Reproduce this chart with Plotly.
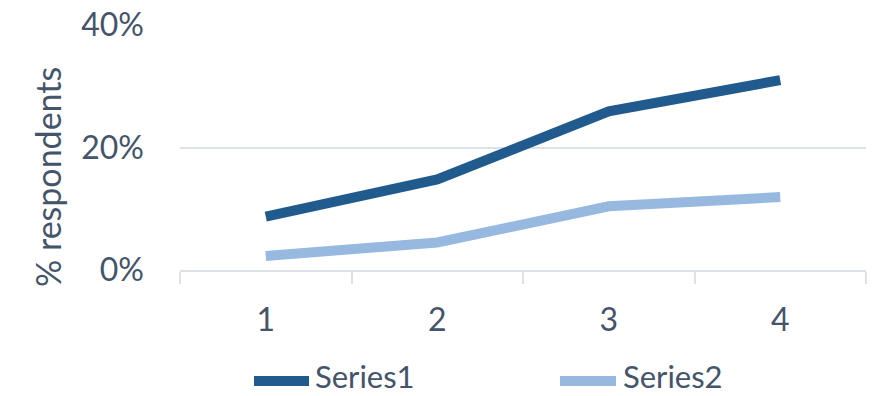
import plotly.graph_objects as go

categories = ["1", "2", "3", "4"]
series_names = ["Series1", "Series2"]
series1 = [8.7, 14.8, 25.9, 31.0]
series2 = [2.3, 4.5, 10.4, 11.9]
colors = ["#215A8C", "#97B9E0"]
y_ticks = [0, 20, 40]
y_tick_labels = ["0%", "20%", "40%"]

TEXT = "#44546A"
GRID = "#DDE2E8"
FONT = "Lato"

W, H = 874, 396
L, R, T, B = 180, 8, 25, 126
PW, PH = W - L - R, H - T - B


def px_x(px):
    return (px - L) / PW


def px_y(py):
    return (H - B - py) / PH


fig = go.Figure()
for name, vals, col in zip(series_names, [series1, series2], colors):
    fig.add_trace(go.Scatter(x=categories, y=vals, name=name, mode="lines",
                             line=dict(color=col, width=10)))

# legend drawn below the plot: swatch line + label
legend_swatch = [(254, 309), (560, 616)]
legend_text_x = [314, 622]
legend_y = 381
for name, col, (sx0, sx1), tx in zip(series_names, colors, legend_swatch, legend_text_x):
    fig.add_shape(type="line", xref="paper", yref="paper",
                  x0=px_x(sx0), x1=px_x(sx1), y0=px_y(legend_y), y1=px_y(legend_y),
                  line=dict(color=col, width=10))
    fig.add_annotation(xref="paper", yref="paper", x=px_x(tx), y=px_y(376),
                       xanchor="left", yanchor="middle", showarrow=False, borderpad=0,
                       text=name, font=dict(size=31, color=TEXT, family=FONT))

# y-axis title
fig.add_annotation(xref="paper", yref="paper", x=px_x(47), y=px_y(177),
                   xanchor="center", yanchor="middle", showarrow=False,
                   textangle=-90, text="% respondents",
                   font=dict(size=34, color=TEXT, family=FONT))

fig.update_layout(
    width=W, height=H,
    margin=dict(l=L, r=R, t=T, b=B, autoexpand=False),
    paper_bgcolor="white", plot_bgcolor="white",
    font=dict(family=FONT, color=TEXT, size=32),
    showlegend=False,
)
fig.update_xaxes(
    type="category", range=[-0.5, 3.5], showgrid=False,
    showline=True, linecolor=GRID, linewidth=2,
    ticks="outside", tickson="boundaries", ticklen=12, tickcolor=GRID, tickwidth=2,
    tickfont=dict(size=32, color=TEXT), ticklabelstandoff=21,
)
fig.update_yaxes(
    range=[0, 40], tickvals=y_ticks, ticktext=y_tick_labels,
    showgrid=True, gridcolor=GRID, gridwidth=2, zeroline=False,
    tickfont=dict(size=32, color=TEXT), ticklabelstandoff=35,
)

fig.write_html("out.html")
